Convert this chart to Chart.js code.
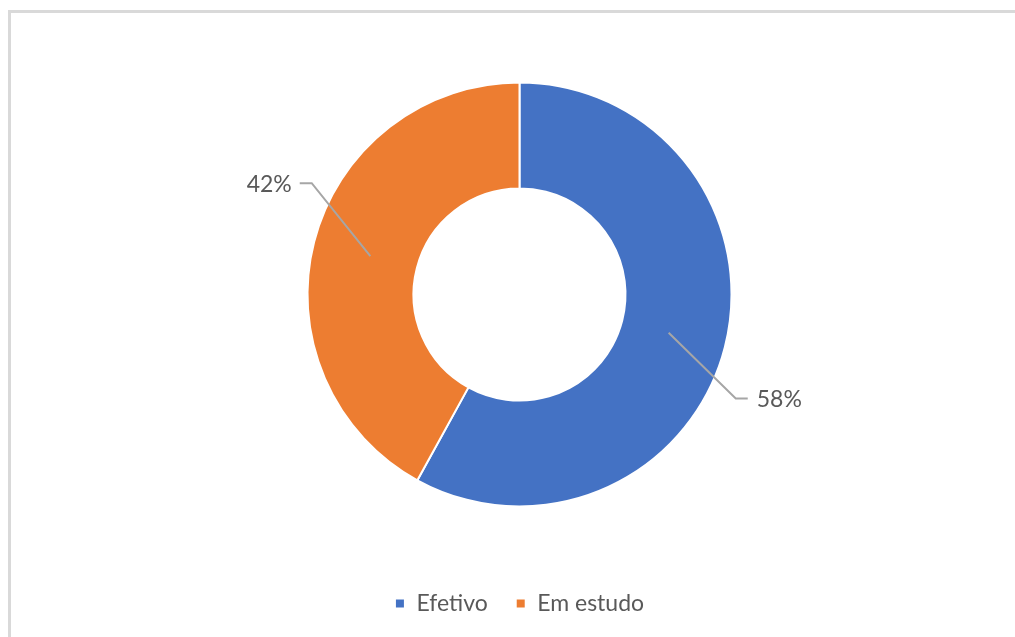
<!DOCTYPE html>
<html>
<head>
<meta charset="utf-8">
<script src="https://cdn.jsdelivr.net/npm/chart.js@4.4.0/dist/chart.umd.min.js"></script>
<style>
    body { margin: 0; background: #fff; overflow: hidden; }
    #box {
        position: absolute; left: 8px; top: 10px;
        width: 1100px; height: 700px;
        border: 3px solid #d9d9d9;
    }
    #wrap { position: absolute; left: 0; top: 0; width: 1015px; height: 637px; }
</style>
</head>
<body>
<div id="box"></div>
<div id="wrap"><canvas id="myChart"></canvas></div>
<script>
const categories = ["Efetivo", "Em estudo"];
const values = [58, 42];
const pctLabels = ["58%", "42%"];
const colors = ["#4472C4", "#ED7D31"];

// elbow of each leader line, as a fraction of the outer radius from the centre
const elbows = [[1.02, 0.49], [-0.98, -0.525]];

const leaderLabels = {
    id: "leaderLabels",
    afterDatasetsDraw(chart) {
        const ctx = chart.ctx;
        const meta = chart.getDatasetMeta(0);
        ctx.save();
        ctx.font = "23px Lato";
        ctx.fillStyle = "#595959";
        ctx.strokeStyle = "#a6a6a6";
        ctx.lineWidth = 2;
        ctx.textBaseline = "middle";
        meta.data.forEach((arc, i) => {
            const p = arc.getProps(["x", "y", "startAngle", "endAngle", "innerRadius", "outerRadius"], true);
            const mid = (p.startAngle + p.endAngle) / 2;
            const r = (p.innerRadius + p.outerRadius) / 2 - 5;
            const sx = p.x + Math.cos(mid) * r;
            const sy = p.y + Math.sin(mid) * r;
            const ex = p.x + elbows[i][0] * p.outerRadius;
            const ey = p.y + elbows[i][1] * p.outerRadius;
            const right = ex > p.x;
            const hx = ex + (right ? 12 : -12);
            ctx.beginPath();
            ctx.moveTo(sx, sy);
            ctx.lineTo(ex, ey);
            ctx.lineTo(hx, ey);
            ctx.stroke();
            ctx.textAlign = right ? "left" : "right";
            ctx.fillText(pctLabels[i], hx + (right ? 9 : -8), ey + 1);
        });
        ctx.restore();
    }
};

new Chart(document.getElementById("myChart"), {
    type: "doughnut",
    data: {
        labels: categories,
        datasets: [{
            data: values,
            backgroundColor: colors,
            borderColor: "#ffffff",
            borderWidth: 2,
            hoverOffset: 0,
            radius: 212
        }]
    },
    options: {
        responsive: true,
        maintainAspectRatio: false,
        animation: false,
        cutout: "50%",
        layout: { padding: { top: 25, bottom: 12, left: 24, right: 0 } },
        plugins: {
            tooltip: { enabled: false },
            legend: {
                position: "bottom",
                labels: {
                    font: { family: "Lato", size: 23 },
                    color: "#595959",
                    boxWidth: 10,
                    boxHeight: 10,
                    padding: 28
                }
            }
        }
    },
    plugins: [leaderLabels]
});
</script>
</body>
</html>
